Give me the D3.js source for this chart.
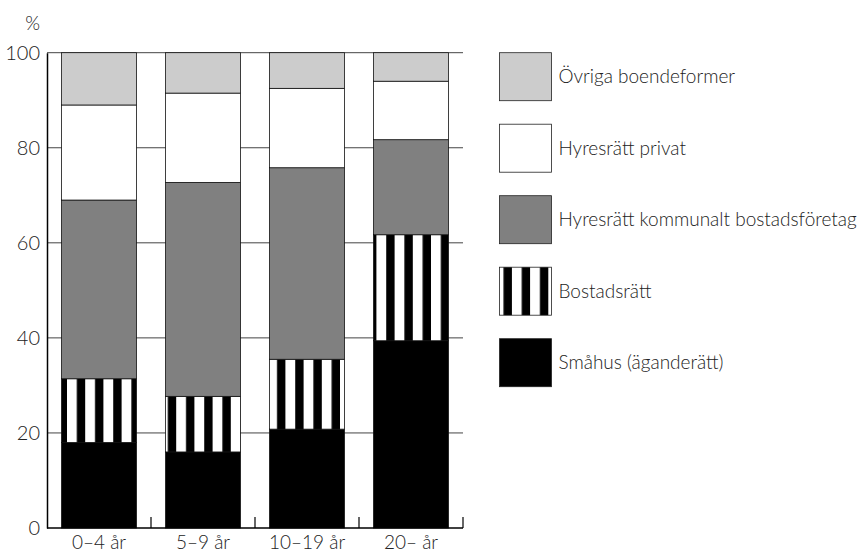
<!DOCTYPE html>
<html><head><meta charset="utf-8">
<script src="https://cdn.jsdelivr.net/npm/d3@7"></script>
<style>body{margin:0;background:#fff}svg{display:block}text{font-family:Lato,"Open Sans",sans-serif;font-weight:300;fill:#222}</style>
</head><body><svg id="c" width="866" height="552"></svg>
<script>
const categories = ["0–4 år", "5–9 år", "10–19 år", "20– år"];
const seriesNames = ["Småhus (äganderätt)", "Bostadsrätt", "Hyresrätt kommunalt bostadsföretag", "Hyresrätt privat", "Övriga boendeformer"];
const smahus      = [18.0, 16.0, 20.8, 39.4];
const bostadsratt = [13.4, 11.7, 14.7, 22.3];
const kommunalt   = [37.6, 45.0, 40.3, 20.0];
const privat      = [20.0, 18.8, 16.7, 12.3];
const ovriga      = [11.0, 8.5, 7.5, 6.0];
const yTicks = [0, 20, 40, 60, 80, 100];
const yUnit = "%";

const keys = ["s0","s1","s2","s3","s4"];
const rows = categories.map((c,i)=>({cat:c, s0:smahus[i], s1:bostadsratt[i], s2:kommunalt[i], s3:privat[i], s4:ovriga[i]}));
const fills = {s0:"#000", s1:"url(#stripes)", s2:"#808080", s3:"#fff", s4:"#cccccc"};

const svg = d3.select("#c");
const defs = svg.append("defs");
const pat = defs.append("pattern").attr("id","stripes").attr("patternUnits","userSpaceOnUse")
  .attr("x",67).attr("y",0).attr("width",18.2).attr("height",10);
pat.append("rect").attr("width",18.2).attr("height",10).attr("fill","#000");
pat.append("rect").attr("width",9.8).attr("height",10).attr("fill","#fff");

const L=47, R=463, T=52.7, B=528;
const x = d3.scaleBand().domain(categories).range([L,R]).paddingInner(0.28).paddingOuter(0.14);
const y = d3.scaleLinear().domain([0,100]).range([B,T]);

// gridlines
svg.append("g").selectAll("line").data(yTicks.filter(t=>t>0)).join("line")
  .attr("x1",L).attr("x2",R).attr("y1",d=>y(d)).attr("y2",d=>y(d))
  .attr("stroke","#444").attr("stroke-width",1);

const stack = d3.stack().keys(keys)(rows);
svg.append("g").selectAll("g").data(stack).join("g")
  .attr("fill",d=>fills[d.key])
  .selectAll("rect").data(d=>d).join("rect")
  .attr("x",d=>x(d.data.cat)).attr("width",x.bandwidth())
  .attr("y",d=>y(d[1])).attr("height",d=>y(d[0])-y(d[1]))
  .attr("stroke","#111").attr("stroke-width",0.8);

// left axis
const ya = d3.axisLeft(y).tickValues(yTicks).tickSize(0).tickPadding(7);
const gy = svg.append("g").attr("transform",`translate(${L},0)`).call(ya);
gy.select(".domain").attr("stroke","#000").attr("stroke-width",1.5);
gy.selectAll("text").style("font-size","20px").style("font-family","Lato").style("font-weight","300").attr("fill","#222");

// bottom axis
const xa = d3.axisBottom(x).tickSize(0);
const gx = svg.append("g").attr("transform",`translate(0,${B})`).call(xa);
gx.select(".domain").attr("stroke","#000").attr("stroke-width",1.5).attr("d",`M${L},0H${R}`);
gx.selectAll("text").attr("y",21).attr("dy","0").style("font-size","19px").style("font-family","Lato").style("font-weight","300").attr("fill","#222");
// band boundary ticks (inward)
const bounds = categories.map(c=>x(c)+x.bandwidth()+x.step()*x.paddingInner()/2);
svg.append("g").selectAll("line").data(bounds).join("line")
  .attr("x1",d=>d).attr("x2",d=>d).attr("y1",B).attr("y2",B-11)
  .attr("stroke","#000").attr("stroke-width",1.2);

svg.append("text").attr("x",40).attr("y",30).attr("text-anchor","end").style("font-size","19px").text(yUnit);

// legend
const legendOrder = ["s4","s3","s2","s1","s0"];
const lg = svg.append("g").selectAll("g").data(legendOrder).join("g")
  .attr("transform",(d,i)=>`translate(499.5,${52.7+i*71.5})`);
lg.append("rect").attr("width",52).attr("height",48).attr("fill",d=>fills[d]).attr("stroke","#222").attr("stroke-width",0.8);
lg.append("text").attr("x",59).attr("y",24).attr("dy","0.35em").style("font-size","19px")
  .text(d=>seriesNames[keys.indexOf(d)]);
</script></body></html>
